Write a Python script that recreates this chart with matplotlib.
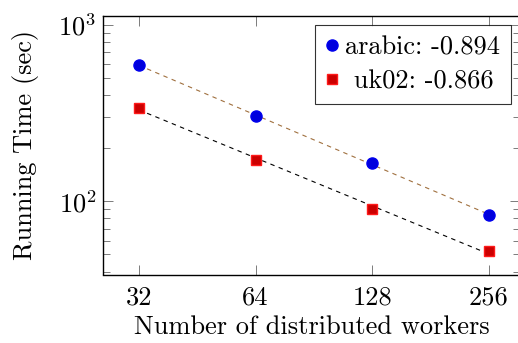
import numpy as np
import matplotlib
matplotlib.use('Agg')
import matplotlib.pyplot as plt
from matplotlib.ticker import FixedLocator, FixedFormatter, LogLocator, NullLocator

plt.rcParams['font.family'] = 'cmr10'
plt.rcParams['mathtext.fontset'] = 'cm'
plt.rcParams['axes.formatter.use_mathtext'] = True

workers = [32, 64, 128, 256]
arabic = [594, 304, 164, 84]
uk02 = [340, 172, 91, 52]
arabic_label = 'arabic: -0.894'
uk02_label = ' uk02: -0.866'

x = np.array(workers, dtype=float)

def fit_line(y):
    b, a = np.polyfit(np.log10(x), np.log10(y), 1)
    return 10 ** (a + b * np.log10(x))

fig = plt.figure(figsize=(5.18, 3.43), dpi=100)
ax = fig.add_axes([103.3 / 518, 1 - 274.5 / 343, (520 - 103.3) / 518, (274.5 - 16) / 343])

ax.plot(x, fit_line(arabic), ls=(0, (4, 4)), color='#a0703f', lw=0.8, zorder=2)
ax.plot(x, fit_line(uk02), ls=(0, (4, 4)), color='black', lw=0.8, zorder=2)
ax.plot(x, arabic, 'o', ms=8, color='#0000dd', mec='#0000ee', label=arabic_label, zorder=3)
ax.plot(x, uk02, 's', ms=7.5, color='#cc0000', mec='#ff1a1a', mew=1, label=uk02_label, zorder=3)

ax.set_xscale('log', base=2)
ax.set_yscale('log')
ax.set_xlim(25.9, 308)
ax.set_ylim(38.5, 1125)

ax.xaxis.set_major_locator(FixedLocator(workers))
ax.xaxis.set_major_formatter(FixedFormatter([str(w) for w in workers]))
ax.xaxis.set_minor_locator(NullLocator())
ax.yaxis.set_major_locator(LogLocator(base=10))
ax.yaxis.set_minor_locator(LogLocator(base=10, subs=np.arange(2, 10)))

ax.tick_params(which='both', direction='in', top=True, right=True, color='#666666', width=0.6)
ax.tick_params(which='major', length=7.5, labelsize=19)
ax.tick_params(which='minor', length=5)
ax.tick_params(axis='x', pad=8)
ax.tick_params(axis='y', pad=5)
for s in ax.spines.values():
    s.set_linewidth(1.0)

ax.set_xlabel('Number of distributed workers', fontsize=19, labelpad=4)
ax.set_ylabel('Running Time (sec)', fontsize=19, labelpad=14)

leg = ax.legend(loc='upper right', bbox_to_anchor=((511 - 103.3) / 416.7, (274.5 - 25) / 258.5),
                fontsize=19, frameon=True, fancybox=False, edgecolor='black',
                handlelength=0.5, handletextpad=0.25, borderpad=0.4, labelspacing=0.38,
                borderaxespad=0)
leg.get_frame().set_linewidth(0.8)

fig.savefig('out.png', dpi=100)
